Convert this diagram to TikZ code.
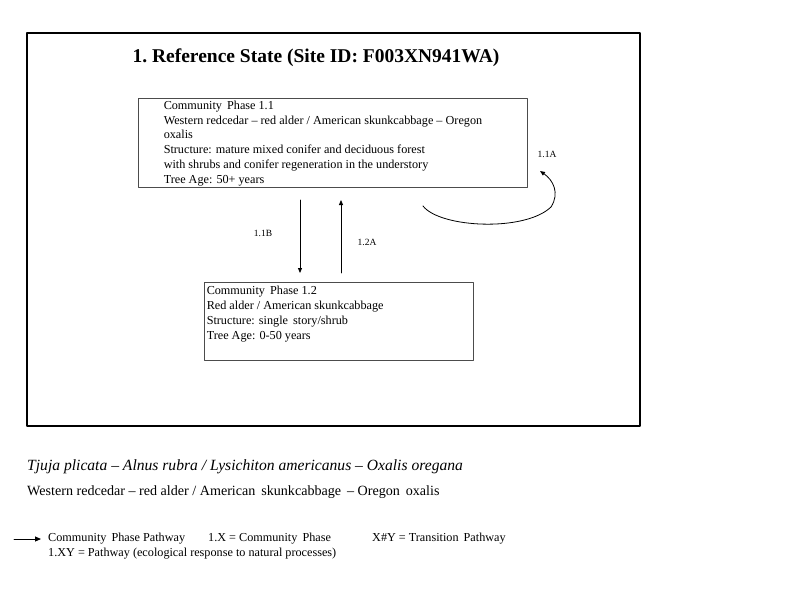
\documentclass[tikz,border=0pt]{standalone}
\usepackage{fontspec}
\setmainfont{Liberation Serif}
\usepackage{tikz}
\usetikzlibrary{arrows.meta, calc, positioning}
\definecolor{boxgray}{rgb}{0.3, 0.3, 0.3}

\begin{document}
\begin{tikzpicture}[x=1pt, y=-1pt, line cap=round, line join=round, >={Triangle[length=5pt,width=4pt]},
	phasebox/.style={draw=boxgray, line width=0.9pt, inner sep=0pt},
	phasetext/.style={align=left, inner sep=0pt, font=\fontsize{12.2}{14.8}\selectfont},
	smalllabel/.style={inner sep=0pt, font=\fontsize{9.5}{11}\selectfont},
	legendtext/.style={anchor=west, inner sep=0pt, font=\fontsize{12.2}{14}\selectfont}]
	\useasboundingbox (0,0) rectangle (800,600);
	% state frame and title
	\draw[line width=1.8pt] (27,33) rectangle (640,426);
	\node[inner sep=0pt, font=\fontsize{19.5}{22}\selectfont\bfseries] (title) at (316,58) {1.\ Reference State (Site ID: F003XN941WA)};
	
	% community phases
	\node[phasebox, minimum width=389pt, minimum height=89pt] (p11) at (332.5,142.5) {};
	\node[phasetext, anchor=north west] (p11txt) at ($(p11.north west)+(26,3)$) {Community \,Phase 1.1\\Western redcedar -- red alder / American skunkcabbage -- Oregon\\oxalis\\Structure: mature mixed conifer and deciduous forest\\with shrubs and conifer regeneration in the understory\\Tree Age: 50+ years};
	\node[phasebox, minimum width=269pt, minimum height=78pt] (p12) at (338.5,321) {};
	\node[phasetext, anchor=north west, font=\fontsize{12.2}{15}\selectfont] (p12txt) at ($(p12.north west)+(3,4.5)$) {Community \,Phase 1.2\\Red alder / American skunkcabbage\\Structure: single \,story/shrub\\Tree Age: 0-50 years};
	
	% pathways
	\draw[->, line width=0.8pt] (300,200)--(300,273);
	\draw[->, line width=0.8pt] (341,273)--(341,200);
	\node[smalllabel] (l11b) at (263,233) {1.1B};
	\node[smalllabel] (l12a) at (367,242) {1.2A};
	\coordinate (c1) at (423,206);
	\coordinate (c2) at (551,207);
	\coordinate (c3) at (540,171);
	\draw[->, line width=0.8pt] (c1) .. controls (440,228) and (525,232) .. (c2) .. controls (560,193) and (553,180) .. (c3);
	\node[smalllabel] (l11a) at (547,154) {1.1A};
	
	% species names
	\node[legendtext, font=\fontsize{15.6}{18}\selectfont\itshape] (latin) at (27,467) {Tjuja plicata -- Alnus rubra / Lysichiton americanus -- Oxalis oregana};
	\node[legendtext, font=\fontsize{14.1}{16}\selectfont] (common) at (27,492) {Western redcedar -- red alder / American \,skunkcabbage \,-- Oregon \,oxalis};
	
	% legend
	\coordinate (k1) at (14,539);
	\coordinate (k2) at (41,539);
	\draw[-{Triangle[length=6pt,width=5pt]}, line width=0.9pt] (k1)--(k2);
	\node[legendtext] (key1) at (48,539) {Community \,Phase Pathway};
	\node[legendtext] (key2) at (208,539) {1.X = Community \,Phase};
	\node[legendtext] (key3) at (372,539) {X\#Y = Transition \,Pathway};
	\node[legendtext] (key4) at (48,554) {1.XY = Pathway (ecological response to natural processes)};

\end{tikzpicture}
\end{document}
